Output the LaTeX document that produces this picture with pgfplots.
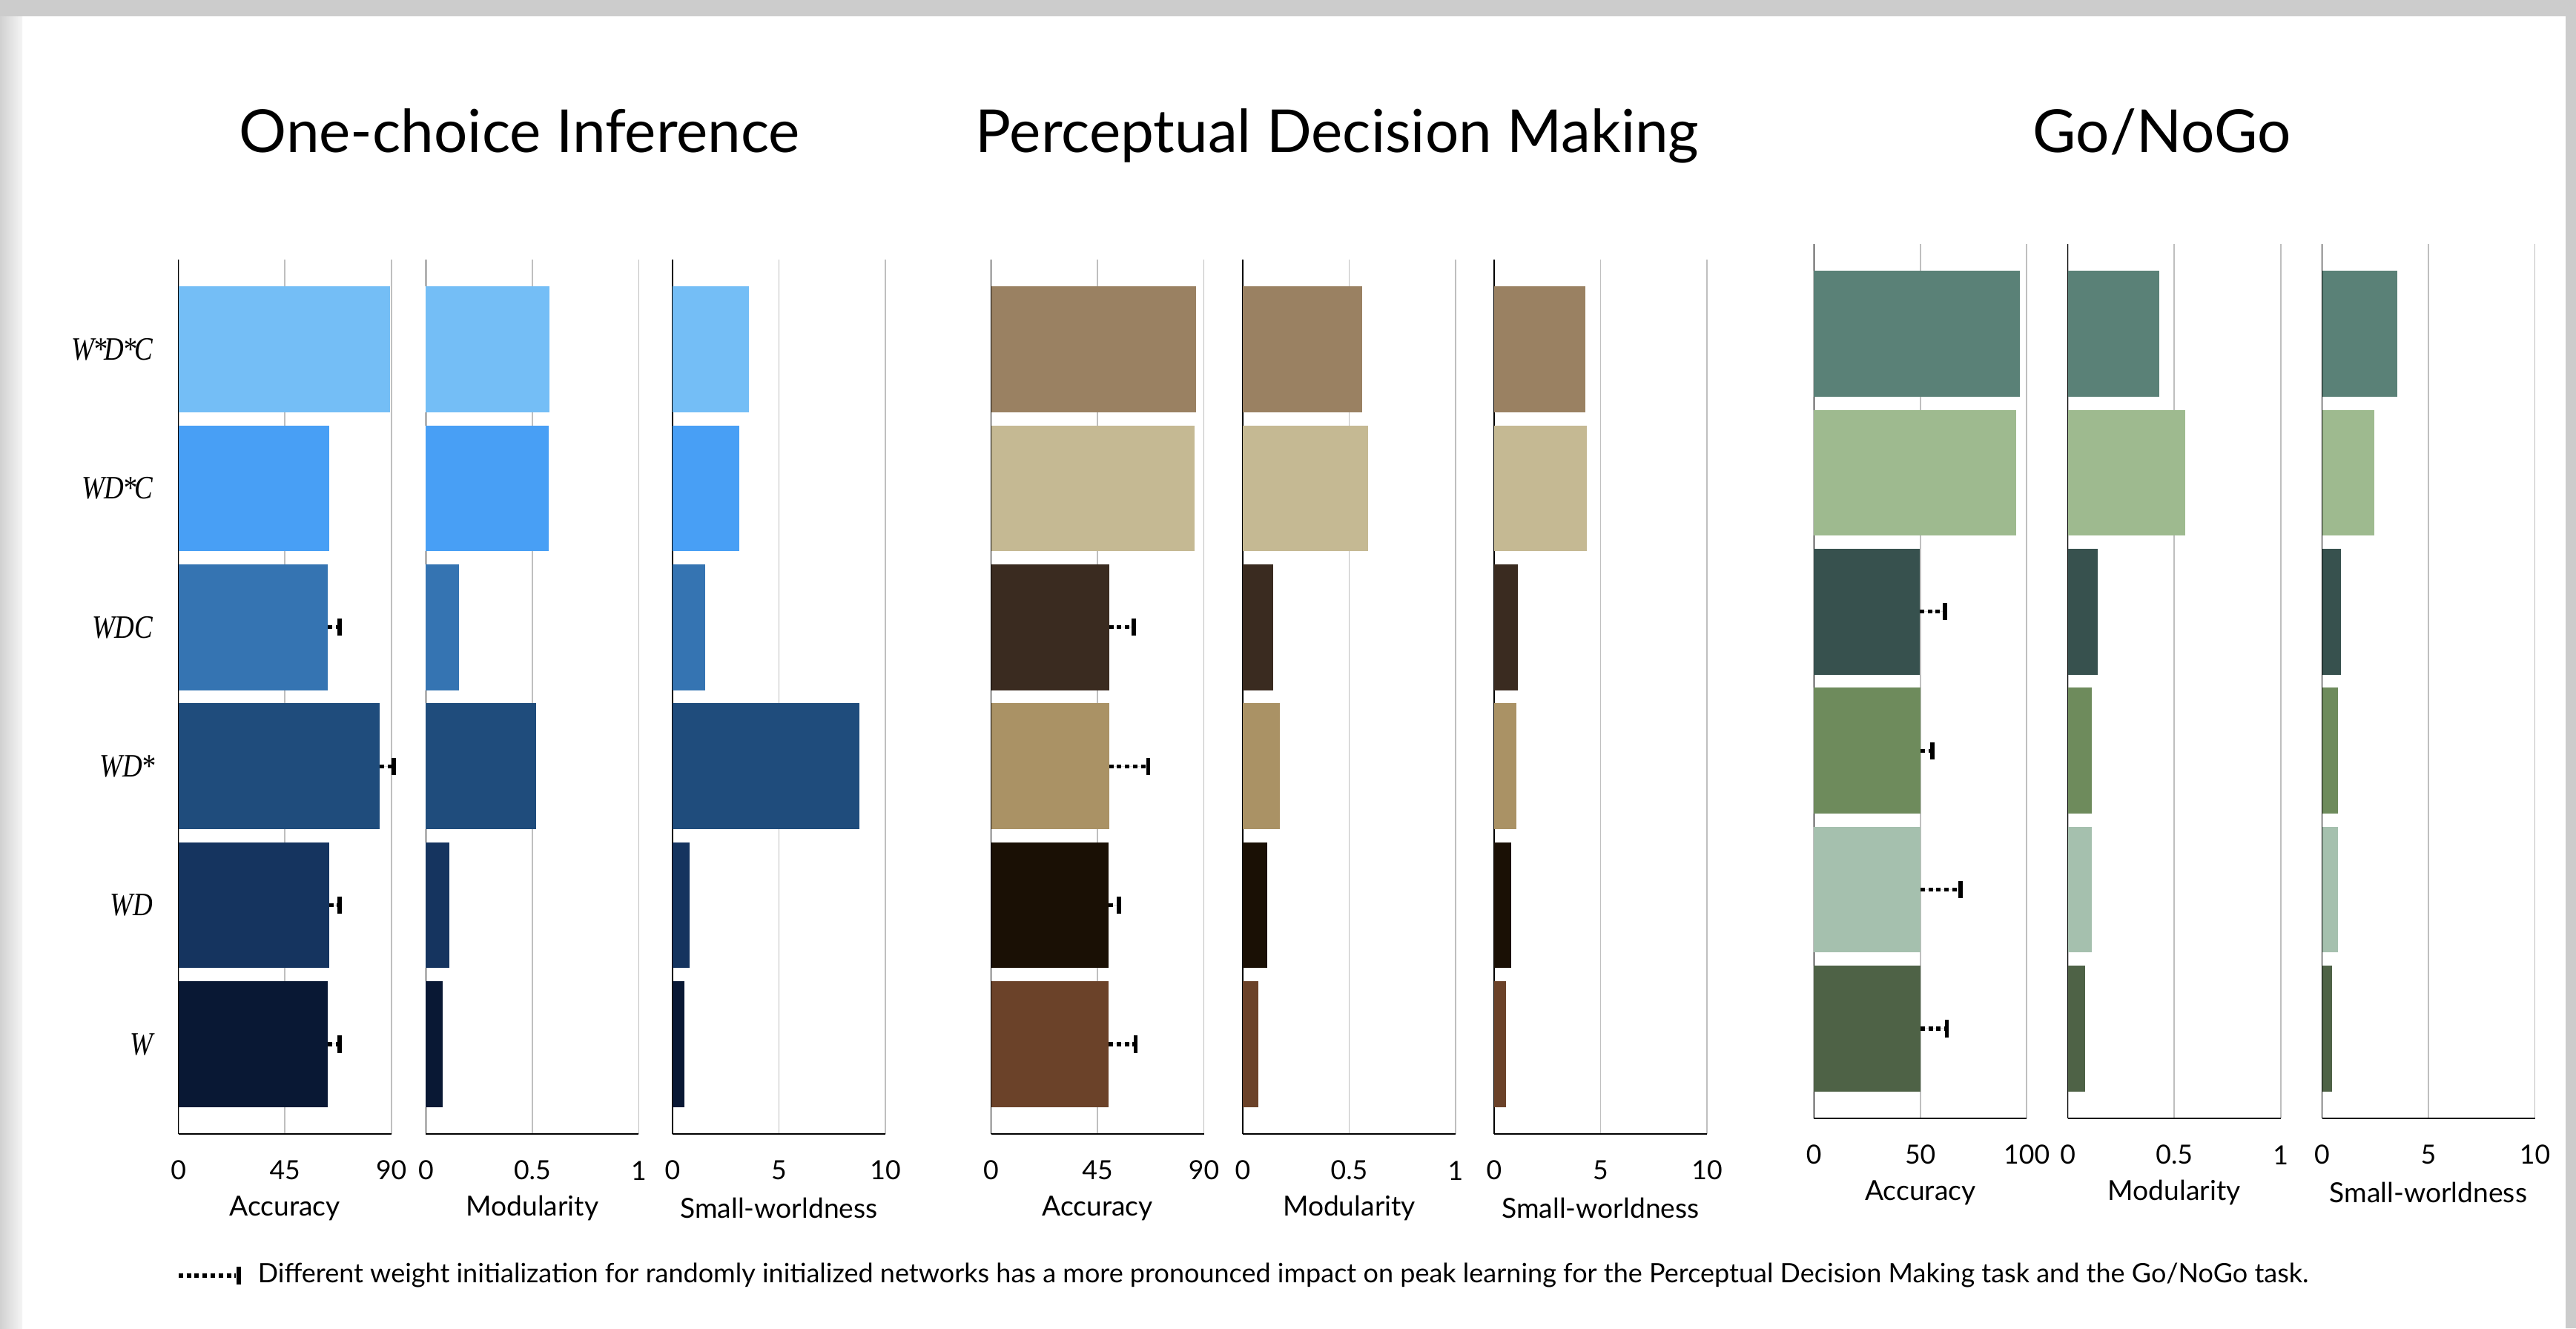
\documentclass[border=0pt]{standalone}
\usepackage{pgfplots}
\pgfplotsset{compat=1.18}
\usepackage{fontspec}
\setmainfont{Lato}
\newfontfamily\labfont[FakeStretch=0.84]{Liberation Serif}

\definecolor{b5}{HTML}{74BEF6}\definecolor{b4}{HTML}{489FF5}\definecolor{b3}{HTML}{3574B2}
\definecolor{b2}{HTML}{1F4C7C}\definecolor{b1}{HTML}{15345F}\definecolor{b0}{HTML}{091834}
\definecolor{r5}{HTML}{9A8162}\definecolor{r4}{HTML}{C5B993}\definecolor{r3}{HTML}{3A2B20}
\definecolor{r2}{HTML}{AA9265}\definecolor{r1}{HTML}{1A1005}\definecolor{r0}{HTML}{6B4229}
\definecolor{g5}{HTML}{5A8177}\definecolor{g4}{HTML}{9EBA8F}\definecolor{g3}{HTML}{37514E}
\definecolor{g2}{HTML}{6E8B5C}\definecolor{g1}{HTML}{A5C0AE}\definecolor{g0}{HTML}{4E6246}

\newcommand{\st}{{\kern-0.04em}*{\kern-0.06em}}

\pgfplotsset{
  panel/.style={
    scale only axis, width=71.75pt, height=294.75pt, anchor=south west,
    xmin=0, ymin=-0.646, ymax=5.646,
    ytick={0,1,2,3,4,5}, yticklabels={},
    ytick style={draw=none}, xtick style={draw=none},
    axis x line*=bottom, axis y line*=left,
    x axis line style={-, line width=0.55pt, black},
    y axis line style={-, line width=0.35pt, black},
    xmajorgrids, major grid style={draw=black!25, line width=0.4pt},
    clip=false,
    /pgf/number format/assume math mode=true,
    tick label style={font=\fontsize{8.9}{10}\selectfont},
    xticklabel style={anchor=center, yshift=-12.3pt},
    xlabel style={font=\fontsize{9.3}{11}\selectfont, at={(axis description cs:0.5,-0.085)}, anchor=center},
  },
  accA/.style={panel, xmax=90, xtick={0,45,90}, xlabel={Accuracy}},
  accB/.style={panel, xmax=100, xtick={0,50,100}, xlabel={Accuracy}},
  modP/.style={panel, xmax=1, xtick={0,0.5,1}, xlabel={Modularity}},
  swP/.style={panel, xmax=10, xtick={0,5,10}, xlabel={Small-worldness}},
  hb/.style={xbar, bar width=0.905, bar shift=0pt, fill=#1, draw=none},
  eb/.style={error bars/.cd, x dir=plus, x explicit,
    error bar style={black, line width=1.3pt, line cap=butt, dash pattern=on 1.5pt off 1.2pt},
    error mark options={black, line width=1.4pt, mark size=2.9pt, solid, rotate=90}},
}

\begin{document}
\begin{tikzpicture}
\path[use as bounding box, fill=white] (0,0) rectangle (868.5pt,-447.75pt);
\fill[black!20] (0,0) rectangle (868.5pt,-5.5pt);
\shade[left color=black!18, right color=black!4] (0,-5.5pt) rectangle (7.5pt,-447.75pt);
\fill[black!20] (865pt,-5.5pt) rectangle (868.5pt,-447.75pt);

% titles
\node[anchor=base, font=\fontsize{20}{24}\selectfont] at (175.2pt,-51.25pt) {One-choice Inference};
\node[anchor=base, font=\fontsize{20}{24}\selectfont] at (450.9pt,-51.25pt) {Perceptual Decision Making};
\node[anchor=base, font=\fontsize{20}{24}\selectfont] at (728.9pt,-51.25pt) {Go/NoGo};

% ---------------- One-choice Inference
\begin{axis}[accA, at={(60.175pt,-382.25pt)},
  yticklabels={W,WD,WD\st,WDC,WD\st C,W\st D\st C},
  yticklabel style={font=\labfont\itshape\fontsize{11}{12}\selectfont, anchor=east, inner sep=0pt, xshift=-8.4pt}]
\addplot[hb=b5] coordinates {(89.4,5)};
\addplot[hb=b4] coordinates {(63.6,4)};
\addplot[hb=b3, eb] coordinates {(63.2,3) +- (5.0,0)};
\addplot[hb=b2, eb] coordinates {(85.1,2) +- (5.9,0)};
\addplot[hb=b1, eb] coordinates {(63.6,1) +- (4.6,0)};
\addplot[hb=b0, eb] coordinates {(63.2,0) +- (5.0,0)};
\end{axis}
\begin{axis}[modP, at={(143.6pt,-382.25pt)}]
\addplot[hb=b5] coordinates {(0.58,5)};
\addplot[hb=b4] coordinates {(0.577,4)};
\addplot[hb=b3] coordinates {(0.157,3)};
\addplot[hb=b2] coordinates {(0.518,2)};
\addplot[hb=b1] coordinates {(0.11,1)};
\addplot[hb=b0] coordinates {(0.079,0)};
\end{axis}
\begin{axis}[swP, at={(226.75pt,-382.25pt)}]
\addplot[hb=b5] coordinates {(3.6,5)};
\addplot[hb=b4] coordinates {(3.14,4)};
\addplot[hb=b3] coordinates {(1.52,3)};
\addplot[hb=b2] coordinates {(8.78,2)};
\addplot[hb=b1] coordinates {(0.79,1)};
\addplot[hb=b0] coordinates {(0.54,0)};
\end{axis}

% ---------------- Perceptual Decision Making
\begin{axis}[accA, at={(334.125pt,-382.25pt)}]
\addplot[hb=r5] coordinates {(86.7,5)};
\addplot[hb=r4] coordinates {(86.1,4)};
\addplot[hb=r3, eb] coordinates {(49.9,3) +- (10.4,0)};
\addplot[hb=r2, eb] coordinates {(49.9,2) +- (16.6,0)};
\addplot[hb=r1, eb] coordinates {(49.7,1) +- (4.3,0)};
\addplot[hb=r0, eb] coordinates {(49.7,0) +- (11.5,0)};
\end{axis}
\begin{axis}[modP, at={(419pt,-382.25pt)}]
\addplot[hb=r5] coordinates {(0.56,5)};
\addplot[hb=r4] coordinates {(0.59,4)};
\addplot[hb=r3] coordinates {(0.143,3)};
\addplot[hb=r2] coordinates {(0.174,2)};
\addplot[hb=r1] coordinates {(0.115,1)};
\addplot[hb=r0] coordinates {(0.073,0)};
\end{axis}
\begin{axis}[swP, at={(503.75pt,-382.25pt)}]
\addplot[hb=r5] coordinates {(4.28,5)};
\addplot[hb=r4] coordinates {(4.35,4)};
\addplot[hb=r3] coordinates {(1.12,3)};
\addplot[hb=r2] coordinates {(1.05,2)};
\addplot[hb=r1] coordinates {(0.8,1)};
\addplot[hb=r0] coordinates {(0.54,0)};
\end{axis}

% ---------------- Go/NoGo
\begin{axis}[accB, at={(611.55pt,-377pt)}]
\addplot[hb=g5] coordinates {(96.8,5)};
\addplot[hb=g4] coordinates {(95.2,4)};
\addplot[hb=g3, eb] coordinates {(49.7,3) +- (12.0,0)};
\addplot[hb=g2, eb] coordinates {(50,2) +- (5.6,0)};
\addplot[hb=g1, eb] coordinates {(50,1) +- (19.0,0)};
\addplot[hb=g0, eb] coordinates {(50,0) +- (12.5,0)};
\end{axis}
\begin{axis}[modP, at={(697.175pt,-377pt)}]
\addplot[hb=g5] coordinates {(0.43,5)};
\addplot[hb=g4] coordinates {(0.552,4)};
\addplot[hb=g3] coordinates {(0.139,3)};
\addplot[hb=g2] coordinates {(0.111,2)};
\addplot[hb=g1] coordinates {(0.111,1)};
\addplot[hb=g0] coordinates {(0.08,0)};
\end{axis}
\begin{axis}[swP, at={(782.875pt,-377pt)}]
\addplot[hb=g5] coordinates {(3.52,5)};
\addplot[hb=g4] coordinates {(2.44,4)};
\addplot[hb=g3] coordinates {(0.89,3)};
\addplot[hb=g2] coordinates {(0.75,2)};
\addplot[hb=g1] coordinates {(0.74,1)};
\addplot[hb=g0] coordinates {(0.47,0)};
\end{axis}

% legend
\draw[line width=1.3pt, line cap=butt, dash pattern=on 1.5pt off 1.2pt] (60.2pt,-430pt) -- (79.6pt,-430pt);
\draw[line width=1.4pt] (80.5pt,-427.1pt) -- (80.5pt,-432.9pt);
\node[anchor=west, inner sep=0pt, font=\fontsize{9.0}{10}\selectfont] at (86.75pt,-430pt)
 {Different weight initialization for randomly initialized networks has a more pronounced impact on peak learning for the Perceptual Decision Making task and the Go/NoGo task.};
\end{tikzpicture}
\end{document}
